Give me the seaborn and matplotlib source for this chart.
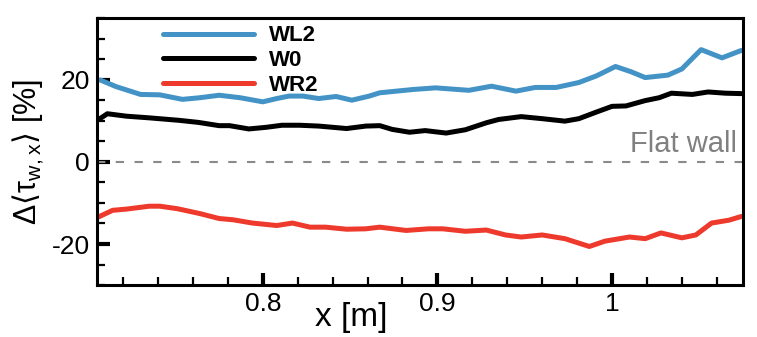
import matplotlib
matplotlib.use('Agg')
import matplotlib.pyplot as plt
import pandas as pd
import seaborn as sns
from matplotlib.ticker import MultipleLocator, FuncFormatter

wl2_x = [0.707, 0.716, 0.730, 0.741, 0.754, 0.764, 0.775, 0.787, 0.800, 0.808, 0.815, 0.823,
         0.832, 0.842, 0.851, 0.861, 0.867, 0.886, 0.899, 0.918, 0.931, 0.945, 0.956, 0.968,
         0.981, 0.991, 1.002, 1.011, 1.019, 1.032, 1.040, 1.051, 1.063, 1.074]
wl2_y = [19.9, 18.3, 16.4, 16.3, 15.2, 15.6, 16.2, 15.6, 14.6, 15.4, 16.0, 16.0,
         15.4, 15.9, 15.0, 16.0, 16.8, 17.6, 18.0, 17.4, 18.4, 17.2, 18.1, 18.1,
         19.3, 20.9, 23.2, 21.9, 20.5, 21.1, 22.6, 27.3, 25.3, 27.1]

w0_x = [0.706, 0.711, 0.722, 0.735, 0.752, 0.763, 0.775, 0.781, 0.792, 0.802, 0.811, 0.821,
        0.832, 0.848, 0.859, 0.867, 0.874, 0.884, 0.893, 0.905, 0.916, 0.928, 0.935, 0.948,
        0.960, 0.973, 0.981, 0.991, 1.000, 1.008, 1.019, 1.027, 1.034, 1.046, 1.055, 1.065, 1.074]
w0_y = [10.3, 11.7, 11.1, 10.7, 10.1, 9.6, 8.8, 8.8, 8.0, 8.4, 8.9, 8.9,
        8.7, 8.1, 8.7, 8.8, 7.9, 7.2, 7.6, 7.0, 7.8, 9.5, 10.3, 11.0,
        10.5, 9.9, 10.5, 12.1, 13.5, 13.6, 14.9, 15.6, 16.7, 16.4, 17.0, 16.7, 16.6]

wr2_x = [0.706, 0.714, 0.722, 0.735, 0.741, 0.751, 0.764, 0.775, 0.783, 0.794, 0.808, 0.817,
         0.827, 0.836, 0.848, 0.859, 0.867, 0.882, 0.895, 0.903, 0.916, 0.928, 0.939, 0.948,
         0.960, 0.973, 0.987, 0.996, 1.010, 1.019, 1.028, 1.040, 1.048, 1.057, 1.067, 1.074]
wr2_y = [-13.4, -11.8, -11.5, -10.8, -10.8, -11.4, -12.6, -13.8, -14.1, -14.9, -15.5, -14.9,
         -15.9, -15.9, -16.4, -16.3, -15.9, -16.7, -16.3, -16.3, -16.9, -16.6, -17.8, -18.3,
         -17.8, -18.7, -20.6, -19.3, -18.3, -18.7, -17.3, -18.5, -17.8, -14.9, -14.2, -13.3]

cases = ['WL2', 'W0', 'WR2']
colors = ['#4393c6', '#000000', '#ee3a2c']

df = pd.concat([
    pd.DataFrame({'x': wl2_x, 'dtau': wl2_y, 'case': 'WL2'}),
    pd.DataFrame({'x': w0_x, 'dtau': w0_y, 'case': 'W0'}),
    pd.DataFrame({'x': wr2_x, 'dtau': wr2_y, 'case': 'WR2'}),
])

sns.set_style('ticks')
plt.rcParams['font.family'] = ['Liberation Sans', 'DejaVu Sans']
plt.rcParams['mathtext.fontset'] = 'dejavusans'
plt.rcParams['axes.unicode_minus'] = False
plt.rcParams['text.color'] = 'black'
plt.rcParams['axes.labelcolor'] = 'black'
plt.rcParams['xtick.color'] = 'black'
plt.rcParams['ytick.color'] = 'black'
plt.rcParams['axes.edgecolor'] = 'black'

fig, ax = plt.subplots(figsize=(7.57, 3.37), dpi=100)
fig.subplots_adjust(left=0.128, right=0.9815, top=0.9466, bottom=0.154)

ax.axhline(0, color='#8a8a8a', lw=1.5, dashes=(4, 5))
sns.lineplot(data=df, x='x', y='dtau', hue='case', hue_order=cases,
             palette=dict(zip(cases, colors)), lw=3.6, estimator=None, sort=False,
             solid_joinstyle='round', solid_capstyle='round', ax=ax)

ax.set_xlim(0.705, 1.075)
ax.set_ylim(-30, 35)
ax.xaxis.set_major_locator(MultipleLocator(0.1))
ax.xaxis.set_minor_locator(MultipleLocator(0.02))
ax.yaxis.set_major_locator(MultipleLocator(20))
ax.yaxis.set_minor_locator(MultipleLocator(5))
ax.xaxis.set_major_formatter(FuncFormatter(lambda v, p: '%g' % round(v, 2)))
ax.tick_params(which='both', direction='in', labelsize=19, width=1.5, pad=5)
ax.tick_params(which='major', length=9, width=3)
ax.tick_params(which='minor', length=6, width=1.6)
for s in ax.spines.values():
    s.set_linewidth(2.2)

ax.set_xlabel('x [m]', fontsize=24, labelpad=0)
ax.xaxis.set_label_coords(0.393, -0.065)
ax.set_ylabel(r'$\mathregular{\Delta}\left\langle\mathregular{\tau_{w,x}}\right\rangle$ [%]',
              fontsize=22, labelpad=4)

ax.text(0.99, 0.498, 'Flat wall', transform=ax.transAxes, ha='right', va='baseline',
        color='#808080', fontsize=21)

leg = ax.legend(loc='upper left', bbox_to_anchor=(0.102, 0.972), frameon=False,
                prop={'weight': 'bold', 'size': 16}, handlelength=4.1, handletextpad=0.7,
                labelspacing=0.16, borderpad=0, borderaxespad=0)
for h in leg.legend_handles:
    h.set_linewidth(3.6)

plt.savefig('out.png', dpi=100)
